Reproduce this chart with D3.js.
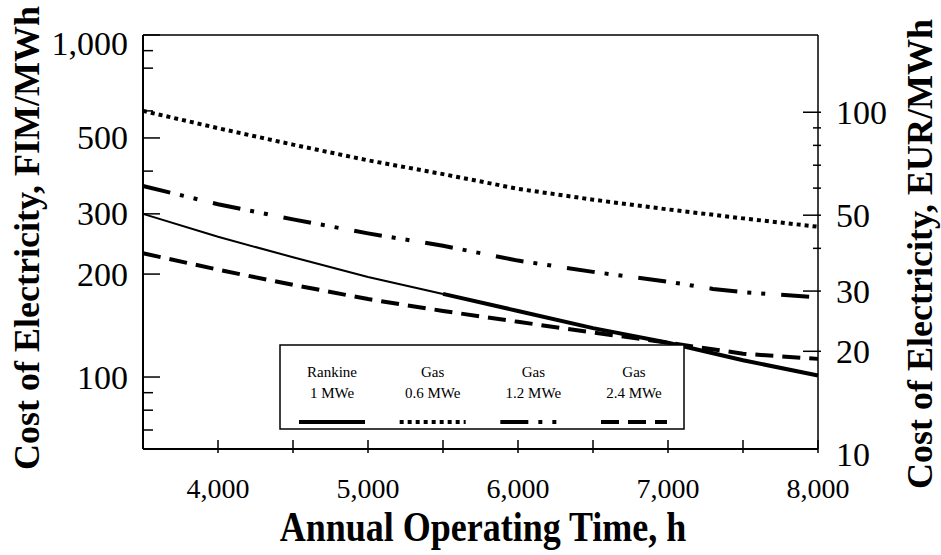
<!DOCTYPE html>
<html>
<head>
<meta charset="utf-8">
<script src="https://cdn.jsdelivr.net/npm/d3@7"></script>
<style>
    body { margin: 0; background: #fff; }
    text { font-family: "Liberation Serif", "Times New Roman", serif; fill: #000; }
    .title { font-weight: bold; font-size: 36px; }
    .tick-y { font-size: 34px; }
    .tick-x { font-size: 28px; }
    .legend-text { font-size: 15px; }
</style>
</head>
<body>
<div id="chart"></div>
<script>
// data (cost in FIM/MWh)
const hours = [3500, 4000, 4500, 5000, 5500, 6000, 6500, 7000, 7500, 8000];
const rankine1 = [300, 257, 224, 196, 175, 156, 139, 126, 112, 101];
const gas06 = [600, 534, 478, 430, 392, 355, 330, 309, 291, 275];
const gas12Hours = [3500, 4000, 4500, 5000, 5500, 6000, 6500, 7000, 7300, 7500, 8000];
const gas12 = [362, 320, 289, 263, 242, 219, 203, 190, 181, 177, 171];
const gas24 = [230, 206, 186, 169, 156, 145, 135, 126, 117, 113];

const xTicks = [4000, 4500, 5000, 5500, 6000, 6500, 7000, 7500, 8000];
const xLabels = [4000, 5000, 6000, 7000, 8000];
const fimMajor = [1000, 500, 300, 200, 100];
const fimMinor = [900, 800, 600, 400, 90, 80, 70];
const eurMajor = [100, 50, 30, 20, 10];
const eurMinor = [90, 80, 70, 60, 40];
const fimPerEur = 5.94573;

const legendTop = ['Rankine', 'Gas', 'Gas', 'Gas'];
const legendBottom = ['1 MWe', '0.6 MWe', '1.2 MWe', '2.4 MWe'];

let width = 941, height = 555;
let margin = { top: 35, right: 123, bottom: 106, left: 143 };
let [x0, x1, y0, y1] = [margin.left, width - margin.right, margin.top, height - margin.bottom];

let svg = d3.select('#chart').append('svg')
    .attr('width', width)
    .attr('height', height);

// scales
let x = d3.scaleLinear().domain([3500, 8000]).range([x0, x1]);
let yFim = d3.scaleLog().domain([61.6, 1000]).range([y1, y0]);
let yEur = d3.scaleLog().domain([61.6 / fimPerEur, 1000 / fimPerEur]).range([y1, y0]);

// line styles
let styles = {
    gas06: { w: 4, dash: '4,4' },
    gas12: { w: 4, dash: '28,10,4,10,4,16' },
    gas24: { w: 4, dash: '18,9' },
    rankine: { w: 4, dash: null }
};

let line = d3.line()
    .x(d => x(d[0]))
    .y(d => yFim(d[1]));

function drawSeries(xs, ys, st, w) {
    svg.append('path')
        .datum(d3.zip(xs, ys))
        .attr('fill', 'none')
        .attr('stroke', '#000')
        .attr('stroke-width', w || st.w)
        .attr('stroke-dasharray', st.dash)
        .attr('d', line);
}

drawSeries(hours, gas06, styles.gas06);
drawSeries(gas12Hours, gas12, styles.gas12);
drawSeries(hours, gas24, styles.gas24);
// rankine curve is drawn thin at the start, heavy afterwards
let split = hours.indexOf(5500);
drawSeries(hours.slice(0, split + 1), rankine1.slice(0, split + 1), styles.rankine, 2);
drawSeries(hours.slice(split), rankine1.slice(split), styles.rankine);

// frame
let frame = svg.append('g').attr('stroke', '#000').attr('fill', 'none');
frame.append('line').attr('x1', x0).attr('x2', x0).attr('y1', y0).attr('y2', y1).attr('stroke-width', 2);
frame.append('line').attr('x1', x0).attr('x2', x1).attr('y1', y1).attr('y2', y1).attr('stroke-width', 2);
frame.append('line').attr('x1', x0).attr('x2', x1).attr('y1', y0).attr('y2', y0).attr('stroke-width', 1.5);
frame.append('line').attr('x1', x1).attr('x2', x1).attr('y1', y0).attr('y2', y1).attr('stroke-width', 1.5);

// x axis ticks and labels
svg.selectAll('.xtick').data(xTicks).enter().append('line')
    .attr('class', 'xtick')
    .attr('x1', d => x(d)).attr('x2', d => x(d))
    .attr('y1', y1 - 9).attr('y2', y1 + 4)
    .attr('stroke', '#000').attr('stroke-width', 1.5);

svg.selectAll('.tick-x').data(xLabels).enter().append('text')
    .attr('class', 'tick-x')
    .attr('text-anchor', 'middle')
    .attr('x', d => x(d))
    .attr('y', 498)
    .text(d3.format(','));

// left axis (FIM)
let inFrame = (s, v) => s(v) >= y0 - 0.5 && s(v) <= y1 + 0.5;

svg.selectAll('.ltick').data(fimMajor.concat(fimMinor).filter(v => inFrame(yFim, v))).enter().append('line')
    .attr('class', 'ltick')
    .attr('x1', x0).attr('x2', d => x0 + (fimMajor.includes(d) ? 17 : 10))
    .attr('y1', d => yFim(d)).attr('y2', d => yFim(d))
    .attr('stroke', '#000').attr('stroke-width', 1.5);

svg.selectAll('.lbl-l').data(fimMajor).enter().append('text')
    .attr('class', 'tick-y lbl-l')
    .attr('text-anchor', 'end')
    .attr('dominant-baseline', 'central')
    .attr('x', 128)
    .attr('y', d => Math.max(yFim(d), 43))
    .text(d3.format(','));

// right axis (EUR)
svg.selectAll('.rtick').data(eurMajor.concat(eurMinor).filter(v => inFrame(yEur, v))).enter().append('line')
    .attr('class', 'rtick')
    .attr('x1', d => x1 - (eurMajor.includes(d) ? 15 : 5)).attr('x2', x1 + 3)
    .attr('y1', d => yEur(d)).attr('y2', d => yEur(d))
    .attr('stroke', '#000').attr('stroke-width', 1.5);

svg.selectAll('.lbl-r').data(eurMajor).enter().append('text')
    .attr('class', 'tick-y lbl-r')
    .attr('dominant-baseline', 'central')
    .attr('x', 836)
    .attr('y', d => yEur(d))
    .text(d => d);

// axis titles (the x title is a bit taller in the original print)
svg.append('text')
    .attr('class', 'title')
    .attr('text-anchor', 'middle')
    .attr('transform', 'translate(483,541) scale(1,1.2)')
    .text('Annual Operating Time, h');

svg.append('text')
    .attr('class', 'title')
    .attr('text-anchor', 'middle')
    .attr('transform', 'translate(39,238) rotate(-90)')
    .text('Cost of Electricity, FIM/MWh');

svg.append('text')
    .attr('class', 'title')
    .attr('text-anchor', 'middle')
    .attr('transform', 'translate(932,254) rotate(-90)')
    .text('Cost of Electricity, EUR/MWh');

// legend
let legend = svg.append('g');
legend.append('rect')
    .attr('x', 280).attr('y', 345)
    .attr('width', 404).attr('height', 84)
    .attr('fill', '#fff').attr('stroke', '#000').attr('stroke-width', 1.5);

let legendStyles = [styles.rankine, styles.gas06, styles.gas12, styles.gas24];
let legendX = d3.scalePoint().domain(d3.range(4)).range([332, 634]);

legendTop.forEach((t, i) => {
    let cx = legendX(i);
    legend.append('text').attr('class', 'legend-text')
        .attr('text-anchor', 'middle').attr('x', cx).attr('y', 377).text(t);
    legend.append('text').attr('class', 'legend-text')
        .attr('text-anchor', 'middle').attr('x', cx).attr('y', 398).text(legendBottom[i]);
    legend.append('line')
        .attr('x1', cx - 33).attr('x2', cx + 33)
        .attr('y1', 422).attr('y2', 422)
        .attr('stroke', '#000')
        .attr('stroke-width', legendStyles[i].w)
        .attr('stroke-dasharray', legendStyles[i].dash);
});
</script>
</body>
</html>
